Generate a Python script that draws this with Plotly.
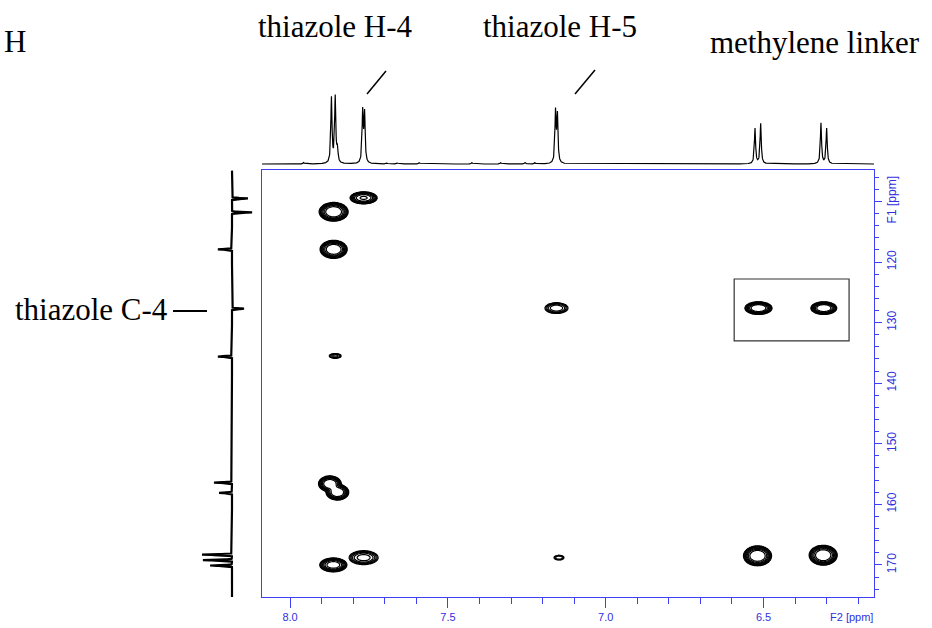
import numpy as np
import plotly.graph_objects as go

W, H = 932, 628

# ---------------- data ----------------
# 1H projection (F2 axis): line positions (ppm) and relative intensities
h_ppm = [7.869, 7.857, 7.850, 7.770, 7.764, 7.159, 7.153, 6.527, 6.509, 6.318, 6.300,
         7.957, 7.694, 7.661, 7.591, 7.424, 7.333, 7.256, 7.224]
h_int = [0.96, 0.97, 0.20, 0.75, 0.72, 0.75, 0.69, 0.52, 0.59, 0.60, 0.52,
         0.02, 0.015, 0.015, 0.02, 0.02, 0.02, 0.02, 0.02]

# 13C projection (F1 axis): line positions (ppm) and signed relative intensities
c_ppm = [109.5, 111.8, 117.9, 127.7, 135.6, 156.4, 158.1, 168.3, 169.2, 170.1]
c_int = [0.53, 0.67, -0.47, 0.40, -0.47, -0.60, -0.43, -1.00, -0.97, -0.73]

# HMBC cross peaks: F2 (1H, ppm), F1 (13C, ppm), intensity, outer contour extent (ppm)
xp_f2 = [7.767, 7.862, 7.862, 7.156, 6.516, 6.309, 7.857, 7.874, 7.850, 7.863, 7.767, 7.148, 6.519, 6.311]
xp_f1 = [109.4, 111.7, 117.9, 127.6, 127.6, 127.6, 135.5, 156.6, 158.0, 170.0, 168.8, 168.8, 168.5, 168.4]
xp_int = [0.6, 1.0, 1.0, 0.22, 1.0, 1.0, 0.12, 1.0, 1.0, 0.8, 0.3, 0.1, 1.0, 1.0]
xp_w2 = [0.086, 0.092, 0.086, 0.073, 0.086, 0.082, 0.038, 0.072, 0.072, 0.086, 0.092, 0.032, 0.089, 0.089]
xp_w1 = [2.0, 3.1, 3.0, 1.8, 2.1, 2.1, 0.8, 2.6, 2.6, 2.3, 2.3, 0.8, 3.3, 3.3]

# axis ticks
x_major = [8.0, 7.5, 7.0, 6.5]
y_major = [110, 120, 130, 140, 150, 160, 170]
y_labels = ["F1 [ppm]", "120", "130", "140", "150", "160", "170"]

# highlighted region (methylene correlations)
box_f2 = [6.593, 6.229]
box_f1 = [122.8, 133.0]

# ---------------- layout geometry ----------------
def px_x(p):
    return p / W

def px_y(p):
    return 1 - p / H

X_RANGE = [8.089, 6.150]
Y_RANGE = [175.3, 104.8]
BLUE = "#3f3ff5"
BLUE_T = "#3030e0"

# ---------------- traces ----------------
fig = go.Figure()

# 2D contours
gx = np.arange(6.150, 8.090, 0.003)
gy = np.arange(104.8, 175.35, 0.12)
GX, GY = np.meshgrid(gx, gy)
Z = np.zeros_like(GX)
LEV0 = 0.03
Q = 3.0
for f2, f1, a, w2, w1 in zip(xp_f2, xp_f1, xp_int, xp_w2, xp_w1):
    rho_out = np.log(a / LEV0) ** (1 / Q)
    sx = w2 / 2 / rho_out
    sy = w1 / 2 / rho_out
    rho = np.sqrt(((GX - f2) / sx) ** 2 + ((GY - f1) / sy) ** 2)
    Z += a * np.exp(-rho ** Q)
ZL = np.log(np.maximum(Z, 1e-6)).astype(np.float32)

fig.add_trace(go.Contour(
    x=gx.astype(np.float32), y=gy.astype(np.float32), z=ZL,
    contours=dict(start=np.log(LEV0), end=-0.55, size=0.42, coloring="lines"),
    colorscale=[[0, "black"], [1, "black"]],
    line=dict(width=1.2, smoothing=1),
    showscale=False, hoverinfo="skip",
    xaxis="x", yaxis="y",
))

# top 1H projection
hx = np.arange(6.150, 8.090, 0.0005)
hy = np.zeros_like(hx)
G1 = 0.0022
for p, h in zip(h_ppm, h_int):
    hy += h * G1 ** 2 / ((hx - p) ** 2 + G1 ** 2)
fig.add_trace(go.Scatter(x=hx, y=hy, mode="lines", line=dict(color="black", width=1.2),
                         xaxis="x2", yaxis="y2", hoverinfo="skip", showlegend=False))

# left 13C projection (gaussian lines)
cy = np.arange(104.9, 175.4, 0.01)
cx = np.zeros_like(cy)
S2 = 0.07
for p, v in zip(c_ppm, c_int):
    cx += v * np.exp(-0.5 * ((cy - p) / S2) ** 2)
fig.add_trace(go.Scatter(x=cx, y=cy, mode="lines", line=dict(color="black", width=2.2),
                         xaxis="x3", yaxis="y3", hoverinfo="skip", showlegend=False))

# ---------------- layout ----------------
main_xdom = [px_x(262), px_x(874)]
main_ydom = [px_y(597), px_y(170)]

top_unit = 68.0  # px per unit intensity
top_dom_px = [166, 88]
r0 = -2.0 / top_unit
r1 = r0 + (top_dom_px[0] - top_dom_px[1]) / top_unit

fig.update_layout(
    width=W, height=H, template="none",
    margin=dict(l=0, r=0, t=0, b=0),
    paper_bgcolor="white", plot_bgcolor="white",
    showlegend=False,
    xaxis=dict(domain=main_xdom, range=X_RANGE, anchor="y",
               showgrid=False, zeroline=False, showline=True, mirror=True,
               linecolor=BLUE, linewidth=1,
               tickmode="array", tickvals=x_major, ticktext=[f"{v:.1f}" for v in x_major],
               ticks="outside", ticklen=10, tickcolor=BLUE, tickwidth=1,
               tickfont=dict(family="Liberation Sans, Arial, sans-serif", size=11, color=BLUE_T),
               minor=dict(tickmode="linear", tick0=0, dtick=0.1, ticks="outside", ticklen=6,
                          tickcolor=BLUE, tickwidth=1, showgrid=False),
               automargin=False),
    yaxis=dict(domain=main_ydom, range=Y_RANGE, anchor="x", side="right",
               showgrid=False, zeroline=False, showline=True, mirror=True,
               linecolor=BLUE, linewidth=1,
               tickmode="array", tickvals=y_major, ticktext=y_labels,
               ticks="outside", ticklen=7, tickcolor=BLUE, tickwidth=1, tickangle=-90,
               tickfont=dict(family="Liberation Sans, Arial, sans-serif", size=12, color=BLUE_T),
               minor=dict(tickmode="linear", tick0=0, dtick=2, ticks="outside", ticklen=4,
                          tickcolor=BLUE, tickwidth=1, showgrid=False),
               automargin=False),
    xaxis2=dict(domain=main_xdom, matches="x", anchor="y2", visible=False),
    yaxis2=dict(domain=[px_y(top_dom_px[0]), px_y(top_dom_px[1])], range=[r0, r1],
                anchor="x2", visible=False),
    xaxis3=dict(domain=[px_x(196), px_x(256)], range=[-1.2, 0.8], anchor="y3", visible=False),
    yaxis3=dict(domain=main_ydom, matches="y", anchor="x3", visible=False),
)

SERIF = "Liberation Serif, Times New Roman, serif"
ann = [
    ("H", 2, 41.2),
    ("thiazole H-4", 256, 26.2),
    ("thiazole H-5", 481, 26.2),
    ("methylene linker", 708, 42.8),
    ("thiazole C-4", 13, 309.5),
]
for txt, x, y in ann:
    fig.add_annotation(text=txt, x=px_x(x), y=px_y(y), xref="paper", yref="paper",
                       xanchor="left", yanchor="middle", showarrow=False,
                       font=dict(family=SERIF, size=31, color="black"))

fig.add_annotation(text="F2 [ppm]", x=px_x(851), y=px_y(617), xref="paper", yref="paper",
                   xanchor="center", yanchor="middle", showarrow=False,
                   font=dict(family="Liberation Sans, Arial, sans-serif", size=11, color=BLUE_T))

# pointer lines
for (x0, y0, x1, y1, w) in [(386, 71, 367, 94, 1.5), (595, 70, 575, 94, 1.5), (173, 311, 207, 311, 2)]:
    fig.add_shape(type="line", xref="paper", yref="paper",
                  x0=px_x(x0), y0=px_y(y0), x1=px_x(x1), y1=px_y(y1),
                  line=dict(color="black", width=w))

# highlight box
fig.add_shape(type="rect", xref="x", yref="y",
              x0=box_f2[0], x1=box_f2[1], y0=box_f1[0], y1=box_f1[1],
              line=dict(color="#333333", width=1.2))

fig.write_html("out.html",
               config={"displayModeBar": False},
               post_script="document.body.style.margin='0';document.body.style.padding='0';"
                           "document.documentElement.style.overflow='hidden';")
